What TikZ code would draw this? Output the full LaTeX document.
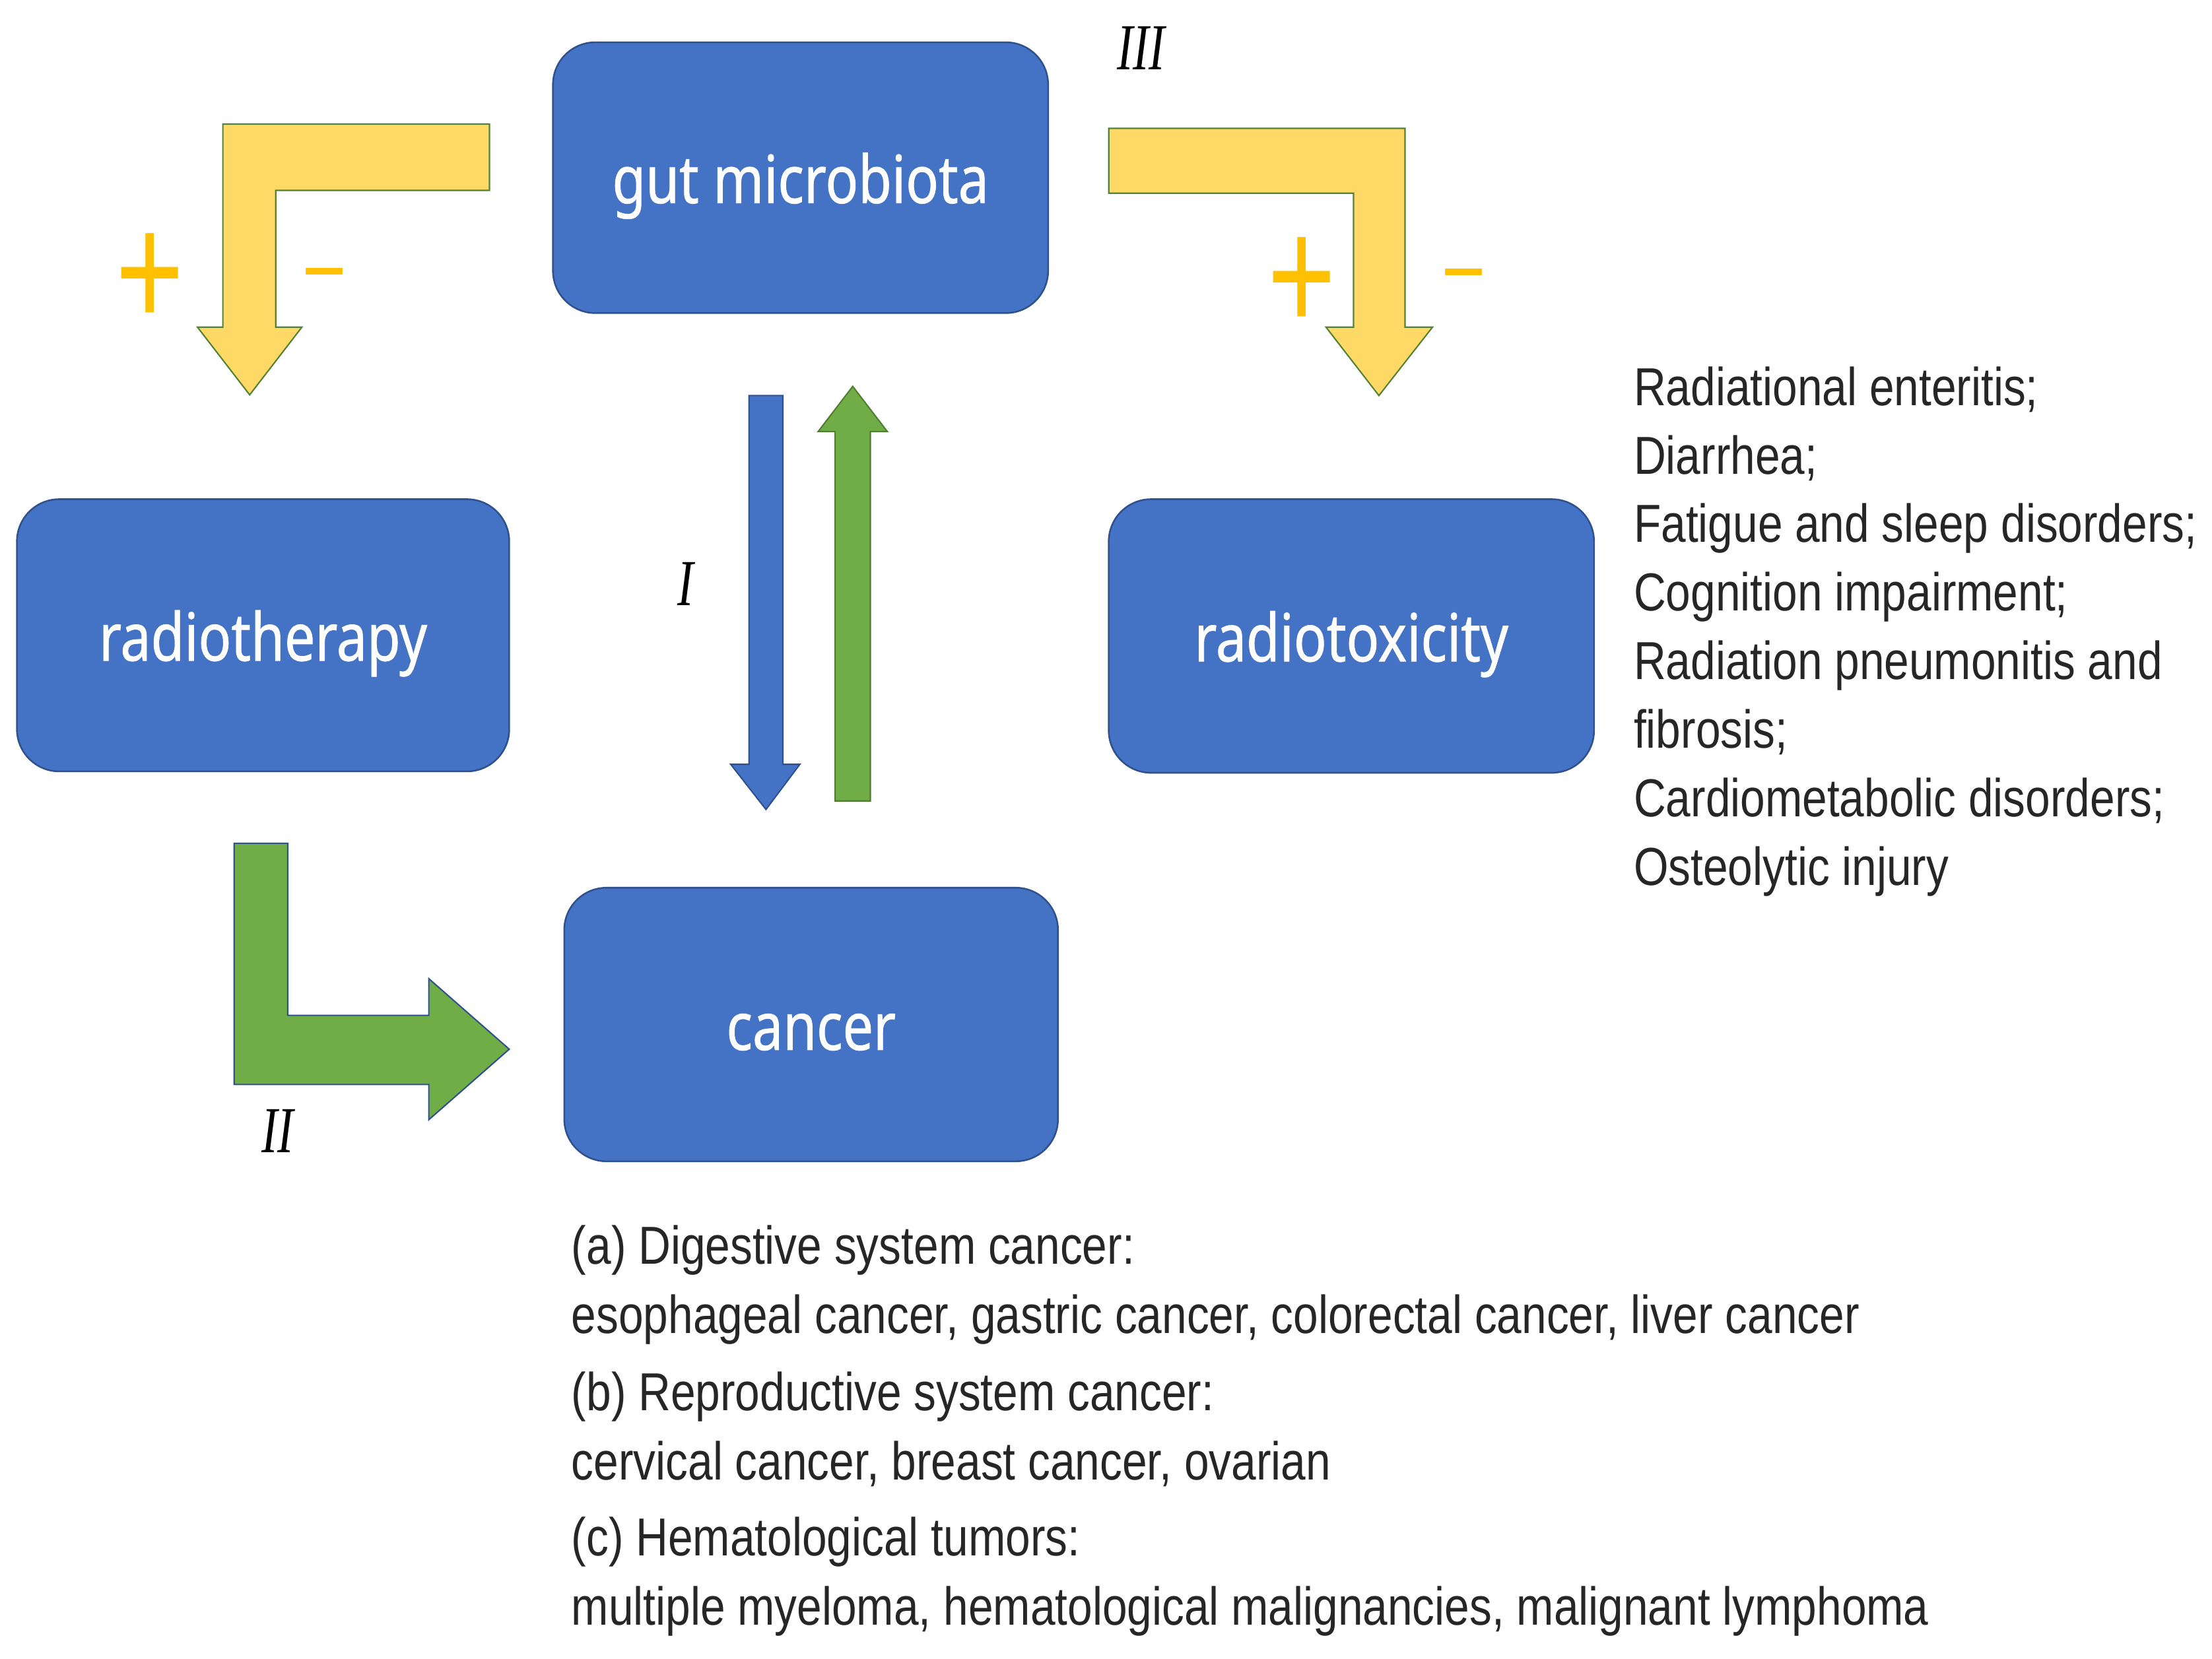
\documentclass[tikz,border=0pt]{standalone}
\usepackage{fontspec}
\setmainfont{Liberation Sans}
\newfontfamily\listfont{Liberation Sans}[FakeStretch=0.835]
\newfontfamily\boxfont{Noto Sans}[FakeStretch=0.82,FakeBold=0.8]
\newfontfamily\romfont{Liberation Serif}[FakeStretch=0.73]
\newfontfamily\plusfont{Liberation Sans}[FakeStretch=0.72]
\newfontfamily\minusfont{Liberation Sans}[FakeStretch=1.78]
\definecolor{boxblue}{HTML}{4472C4}
\definecolor{boxline}{HTML}{2F528F}
\definecolor{yelfill}{HTML}{FFD966}
\definecolor{yelline}{HTML}{548235}
\definecolor{grnfill}{HTML}{70AD47}
\definecolor{grnline}{HTML}{507E32}
\definecolor{pmcol}{HTML}{FFC000}
\definecolor{txt}{HTML}{262626}
\begin{document}
\begin{tikzpicture}[x=1pt,y=-1pt,
  bluebox/.style={draw=boxline, fill=boxblue, line width=1.2pt, rounded corners=30pt,
    inner sep=0pt, text=white, font=\boxfont\fontsize{47}{47}\selectfont,
    text height=36pt, text depth=0pt},
  listline/.style={anchor=base west, inner sep=0pt, text=txt,
    font=\listfont\fontsize{37.9}{48.6}\selectfont},
  roman/.style={inner sep=0pt, text=black, font=\romfont\itshape\fontsize{46.6}{46.6}\selectfont},
  plussign/.style={anchor=base, inner sep=0pt, text=pmcol, font=\plusfont\fontsize{115}{115}\selectfont},
  minussign/.style={anchor=base, inner sep=0pt, text=pmcol, font=\minusfont\fontsize{60}{60}\selectfont},
  yelarrow/.style={fill=yelfill, draw=yelline, line width=1pt, line join=miter},
  bluearrow/.style={fill=boxblue, draw=boxline, line width=1pt},
  grnarrow/.style={fill=grnfill, draw=grnline, line width=1pt},
  grnarrowb/.style={fill=grnfill, draw=boxline, line width=1pt}
]
\useasboundingbox (0,0) rectangle (1568.1,1176.4);
\fill[white] (0,0) rectangle (1568.1,1176.4);

% boxes
\node[bluebox, minimum width=351pt, minimum height=192pt] (gut) at (567.5,126) {gut microbiota};
\node[bluebox, minimum width=349pt, minimum height=193pt] (radio) at (186.5,450.5) {radiotherapy};
\node[bluebox, minimum width=344pt, minimum height=194pt] (toxic) at (958,451) {radiotoxicity};
\node[bluebox, minimum width=350pt, minimum height=194pt] (cancer) at (575,726.5) {cancer};

% yellow bent arrows
\draw[yelarrow] (347,88) -- (158,88) -- (158,232) -- (140,232) -- (177,280) -- (214,232)
  -- (195.5,232) -- (195.5,135) -- (347,135) -- cycle;
\draw[yelarrow] (786,91) -- (996,91) -- (996,232) -- (1015.5,232) -- (977.5,280.5) -- (940,232)
  -- (959.5,232) -- (959.5,137) -- (786,137) -- cycle;

% blue down / green up arrows
\draw[bluearrow] (531,280.5) -- (555,280.5) -- (555,542) -- (567,542) -- (543,574) -- (518,542)
  -- (531,542) -- cycle;
\draw[grnarrow] (592,568) -- (617,568) -- (617,306) -- (629,306) -- (604.5,274) -- (580,306)
  -- (592,306) -- cycle;

% green bent arrow
\draw[grnarrowb] (166,598) -- (204,598) -- (204,720) -- (304,720) -- (304,694) -- (361,744)
  -- (304,794) -- (304,769) -- (166,769) -- cycle;

% plus / minus signs
\node[plussign] (pl1) at (106.5,232) {+};
\node[minussign] (mi1) at (230,208.6) {-};
\node[plussign] (pl2) at (923,234.6) {+};
\node[minussign] (mi2) at (1037.5,208.9) {-};

% roman labels
\node[roman] (rI) at (486,414) {I};
\node[roman] (rII) at (197,802) {II};
\node[roman] (rIII) at (809,34) {III};

% radiotoxicity list
\node[listline] (t1) at (1158,287.4) {Radiational enteritis;};
\node[listline] (t2) at (1158,336.0) {Diarrhea;};
\node[listline] (t3) at (1158,384.6) {Fatigue and sleep disorders;};
\node[listline] (t4) at (1158,433.2) {Cognition impairment;};
\node[listline] (t5) at (1158,481.8) {Radiation pneumonitis and};
\node[listline] (t6) at (1158,530.4) {fibrosis;};
\node[listline] (t7) at (1158,579.0) {Cardiometabolic disorders;};
\node[listline] (t8) at (1158,627.6) {Osteolytic injury};

% cancer list
\node[listline] (c1) at (405,896.4) {(a) Digestive system cancer:};
\node[listline] (c2) at (405,945.4) {esophageal cancer, gastric cancer, colorectal cancer, liver cancer};
\node[listline] (c3) at (405,1000.4) {(b) Reproductive system cancer:};
\node[listline] (c4) at (405,1049.4) {cervical cancer, breast cancer, ovarian};
\node[listline] (c5) at (405,1103.4) {(c) Hematological tumors:};
\node[listline] (c6) at (405,1152.4) {multiple myeloma, hematological malignancies, malignant lymphoma};
\end{tikzpicture}
\end{document}
